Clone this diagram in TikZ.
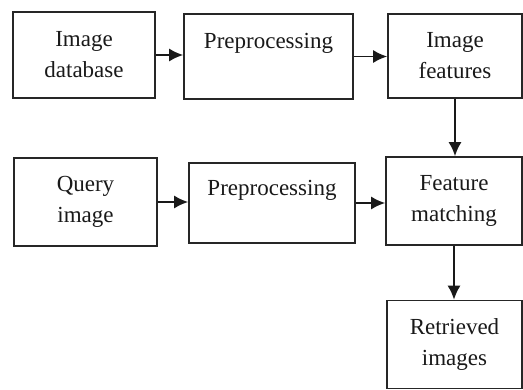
\documentclass[tikz,border=0pt]{standalone}
\usepackage{fontspec}
\setmainfont{Liberation Serif}
\usetikzlibrary{arrows.meta,positioning}

\begin{document}
\begin{tikzpicture}[
    x=1pt,y=-1pt,
    font=\fontsize{23}{31}\selectfont,
    box/.style={draw=black!85,line width=1.6pt,align=center,inner sep=0pt,text=black!90},
    flow/.style={-{Latex[length=14pt,width=13pt]},line width=1.8pt,draw=black!90}
  ]
    \useasboundingbox (0,0) rectangle (523,390);

    % top row
    \node[box,minimum width=142pt,minimum height=86pt] (db) at (84,55) {Image\\database};
    \node[box,minimum width=169pt,minimum height=85pt] (pre1) at (268.5,56.5) {Preprocessing\\[-10pt]\strut};
    \node[box,minimum width=134pt,minimum height=84pt] (feat) at (455,56) {Image\\features};

    % second row
    \node[box,minimum width=143pt,minimum height=88pt] (query) at (85.5,202) {Query\\image};
    \node[box,minimum width=166pt,minimum height=80pt] (pre2) at (272,203) {Preprocessing\\[-10pt]\strut};
    \node[box,minimum width=136pt,minimum height=88pt] (match) at (454,201) {Feature\\matching};

    % result
    \node[box,minimum width=135pt,minimum height=88pt] (retr) at (454.5,344.5) {Retrieved\\images};

    \draw[flow] (db.east) -- (db.east -| pre1.west);
    \draw[flow] (pre1.east) -- (pre1.east -| feat.west);
    \draw[flow] (feat.south) -- (feat.south |- match.north);
    \draw[flow] (query.east) -- (query.east -| pre2.west);
    \draw[flow] (pre2.east) -- (pre2.east -| match.west);
    \draw[flow] (match.south) -- (match.south |- retr.north);
\end{tikzpicture}
\end{document}
